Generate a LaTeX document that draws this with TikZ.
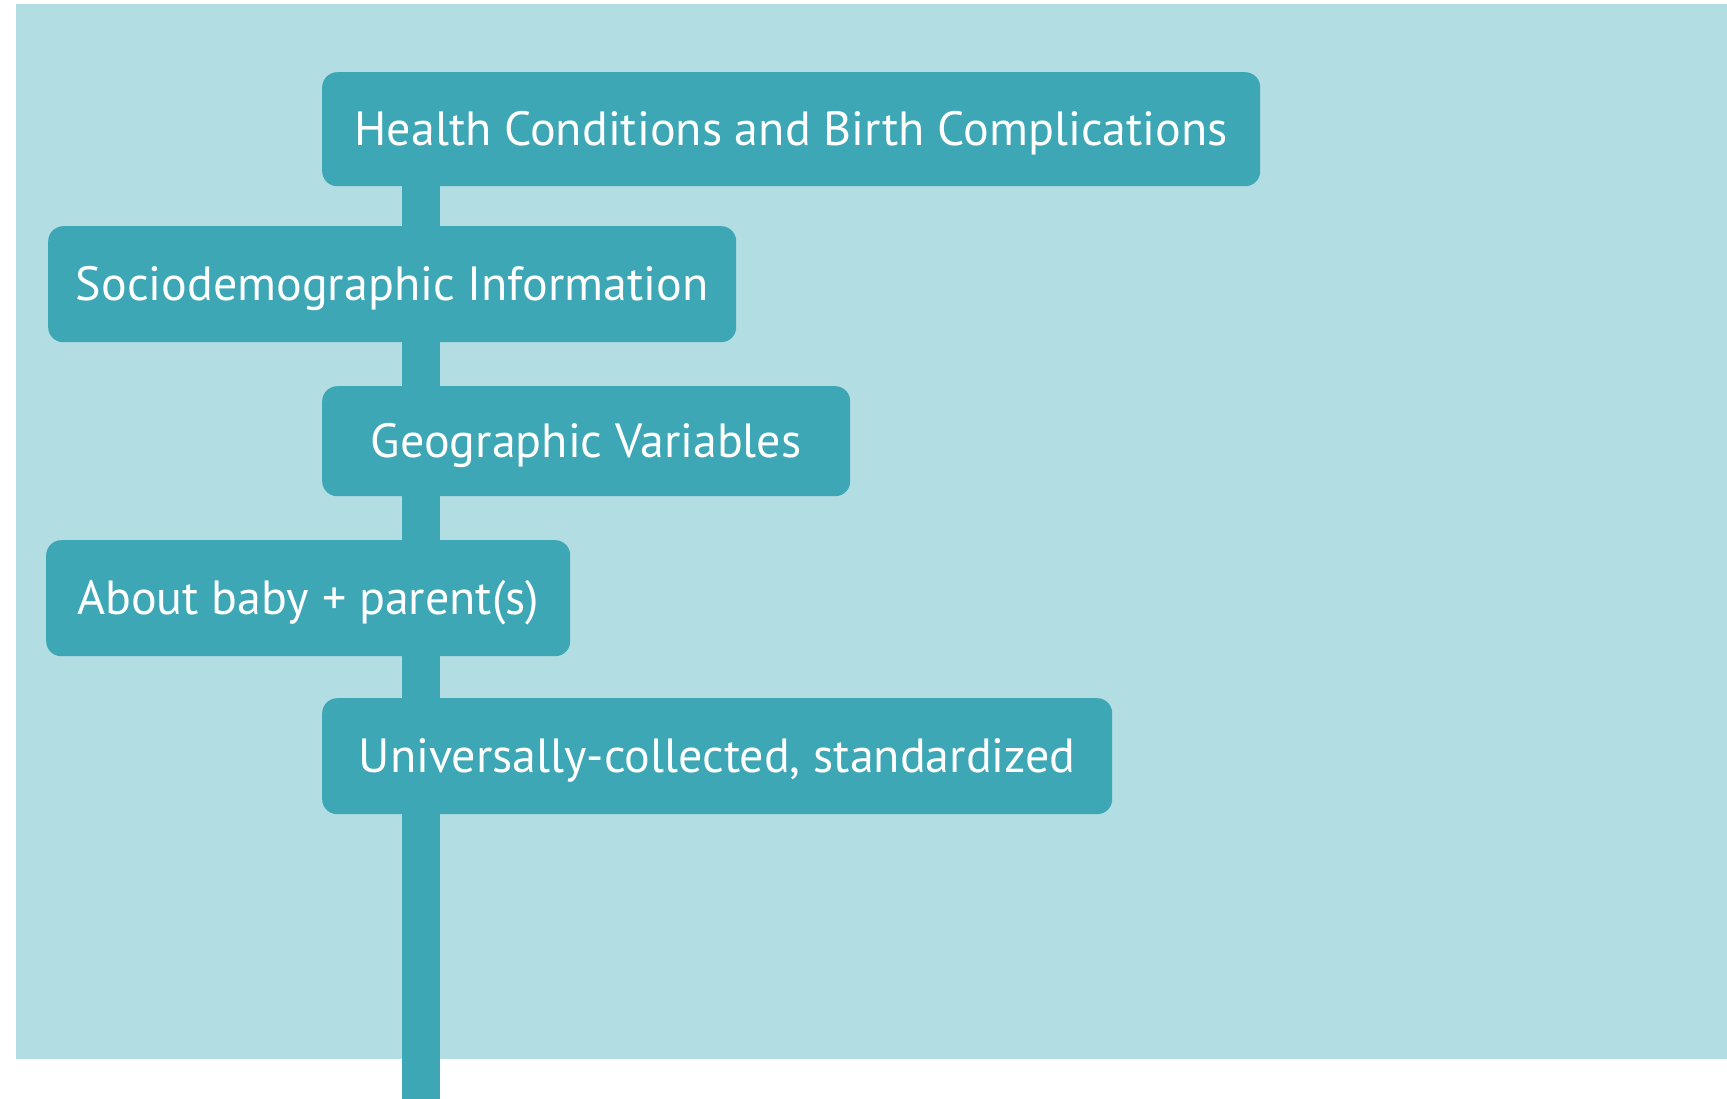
\documentclass[tikz,border=0pt]{standalone}
\usepackage{fontspec}
\setmainfont{PT Sans}
\definecolor{bgc}{HTML}{B2DEE3}
\definecolor{boxc}{HTML}{3DA7B5}
\tikzset{
  itembox/.style={fill=boxc, draw=none, rounded corners=15pt, text=white,
    font=\fontsize{48}{58}\selectfont, inner sep=0pt, text height=33.5pt, text depth=0pt,
    anchor=north west, align=center},
  trunk/.style={draw=boxc, line width=38pt}
}
\begin{document}
\begin{tikzpicture}[x=1pt,y=-1pt]
\useasboundingbox (0,0) rectangle (1727,1099);
\fill[bgc] (16,4) rectangle (1727,1059);
\coordinate (end) at (421,1099);
\node[itembox, minimum width=938pt, minimum height=114pt] (hc) at (322,72) {Health Conditions and Birth Complications};
\node[itembox, minimum width=688pt, minimum height=116pt] (sd) at (48,226) {Sociodemographic Information};
\node[itembox, minimum width=528pt, minimum height=110pt] (geo) at (322,386) {Geographic Variables};
\node[itembox, minimum width=524pt, minimum height=116pt] (ab) at (46,540) {About baby + parent(s)};
\node[itembox, minimum width=790pt, minimum height=116pt] (uc) at (322,698) {Universally-collected, standardized};
\draw[trunk] (hc.south -| end) -- (sd.north -| end);
\draw[trunk] (sd.south -| end) -- (geo.north -| end);
\draw[trunk] (geo.south -| end) -- (ab.north -| end);
\draw[trunk] (ab.south -| end) -- (uc.north -| end);
\draw[trunk] (uc.south -| end) -- (end);
\end{tikzpicture}
\end{document}
